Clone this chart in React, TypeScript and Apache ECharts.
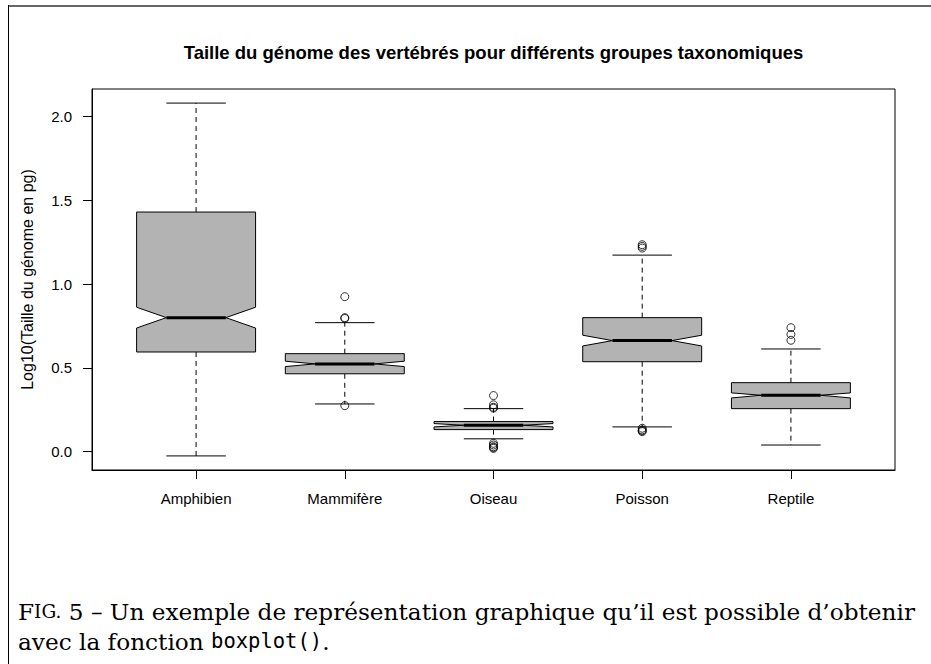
import React, { useEffect, useRef } from "react";
import * as echarts from "echarts";

const categories = ["Amphibien", "Mammifère", "Oiseau", "Poisson", "Reptile"];
const whiskerLow = [-0.025, 0.285, 0.077, 0.148, 0.04];
const boxLow = [0.595, 0.465, 0.132, 0.537, 0.257];
const notchLow = [0.738, 0.508, 0.148, 0.631, 0.321];
const medians = [0.8, 0.524, 0.158, 0.663, 0.337];
const notchHigh = [0.862, 0.54, 0.168, 0.695, 0.351];
const boxHigh = [1.43, 0.585, 0.18, 0.8, 0.412];
const whiskerHigh = [2.08, 0.77, 0.257, 1.173, 0.613];
const outliers: number[][] = [
  [],
  [0.925, 0.8, 0.795, 0.275],
  [0.335, 0.28, 0.265, 0.26, 0.05, 0.04, 0.03, 0.025, 0.02],
  [1.235, 1.225, 1.215, 0.14, 0.13, 0.125, 0.12],
  [0.74, 0.7, 0.665],
];
const yTicks = [0, 0.5, 1, 1.5, 2];
const xTicks = [1, 2, 3, 4, 5];

const titleText = "Taille du génome des vertébrés pour différents groupes taxonomiques";
const yTitle = "Log10(Taille du génome en pg)";

export default function App() {
  const ref = useRef<HTMLDivElement>(null);
  useEffect(() => {
    if (!ref.current) return;
    const chart = echarts.init(ref.current, undefined, { renderer: "svg" });
    const boxData = categories.map((_, i) => [
      i + 1,
      whiskerLow[i],
      boxLow[i],
      notchLow[i],
      medians[i],
      notchHigh[i],
      boxHigh[i],
      whiskerHigh[i],
    ]);
    const outData: number[][] = [];
    outliers.forEach((arr, i) => arr.forEach((v) => outData.push([i + 1, v])));
    const font = "'Liberation Sans', Arial, sans-serif";
    const serif = "'DejaVu Serif', 'Liberation Serif', serif";
    chart.setOption({
      animation: false,
      grid: {
        left: 92,
        top: 89,
        width: 803,
        height: 381,
        show: true,
        borderColor: "#000",
        borderWidth: 1,
        backgroundColor: "transparent",
      },
      xAxis: {
        type: "value",
        min: 0.3,
        max: 5.7,
        splitLine: { show: false },
        axisLine: { show: true, onZero: false, lineStyle: { color: "#000", width: 1 } },
        axisTick: { show: true, customValues: xTicks, length: 9, lineStyle: { color: "#000" } },
        axisLabel: {
          customValues: xTicks,
          formatter: (v: number) => categories[Math.round(v) - 1] ?? "",
          color: "#000",
          fontFamily: font,
          fontSize: 15,
          margin: 21,
        },
      },
      yAxis: {
        type: "value",
        min: -0.109,
        max: 2.164,
        splitLine: { show: false },
        axisLine: { show: true, onZero: false, lineStyle: { color: "#000", width: 1 } },
        axisTick: { show: true, customValues: yTicks, length: 9, lineStyle: { color: "#000" } },
        axisLabel: {
          customValues: yTicks,
          formatter: (v: number) => v.toFixed(1),
          color: "#000",
          fontFamily: font,
          fontSize: 15,
          margin: 20,
        },
        name: yTitle,
        nameLocation: "middle",
        nameGap: 57,
        nameTextStyle: { color: "#000", fontFamily: font, fontSize: 16 },
      },
      graphic: [
        {
          type: "line",
          shape: { x1: 8, y1: 6, x2: 931, y2: 6 },
          style: { stroke: "#666", lineWidth: 2 },
        },
        {
          type: "line",
          shape: { x1: 8.5, y1: 5, x2: 8.5, y2: 664 },
          style: { stroke: "#000", lineWidth: 1 },
        },
        {
          type: "text",
          x: 493.5,
          y: 52,
          style: {
            text: titleText,
            align: "center",
            verticalAlign: "middle",
            fontFamily: font,
            fontWeight: "bold",
            fontSize: 18.5,
            fill: "#000",
          },
        },
        {
          type: "text",
          x: 18,
          y: 611,
          style: {
            text: "{a|F}{b|IG.}{a| 5 – Un exemple de représentation graphique qu’il est possible d’obtenir}",
            verticalAlign: "middle",
            rich: {
              a: { fontFamily: serif, fontSize: 23.2, fill: "#000" },
              b: { fontFamily: serif, fontSize: 18.5, fill: "#000" },
            },
          },
        },
        {
          type: "text",
          x: 18,
          y: 641,
          style: {
            text: "{a|avec la fonction }{m|boxplot()}{a|.}",
            verticalAlign: "middle",
            rich: {
              a: { fontFamily: serif, fontSize: 23.2, fill: "#000" },
              m: { fontFamily: "'DejaVu Sans Mono', 'Liberation Mono', monospace", fontSize: 20.5, fill: "#000" },
            },
          },
        },
      ],
      series: [
        {
          type: "custom",
          data: boxData,
          encode: { x: 0, y: [1, 2, 3, 4, 5, 6, 7] },
          renderItem: (params: any, api: any) => {
            const xv = api.value(0);
            const cx = api.coord([xv, 0])[0];
            const w = api.size([0.4, 0])[0];
            const y = (k: number) => api.coord([xv, api.value(k)])[1];
            const wlo = y(1), blo = y(2), nlo = y(3), med = y(4), nhi = y(5), bhi = y(6), whi = y(7);
            const stroke = { stroke: "#000", lineWidth: 1 };
            const dashed = { stroke: "#000", lineWidth: 1, lineDash: [5, 4] };
            return {
              type: "group",
              children: [
                { type: "line", shape: { x1: cx, y1: bhi, x2: cx, y2: whi }, style: dashed },
                { type: "line", shape: { x1: cx, y1: blo, x2: cx, y2: wlo }, style: dashed },
                { type: "line", shape: { x1: cx - w / 2, y1: whi, x2: cx + w / 2, y2: whi }, style: stroke },
                { type: "line", shape: { x1: cx - w / 2, y1: wlo, x2: cx + w / 2, y2: wlo }, style: stroke },
                {
                  type: "polygon",
                  shape: {
                    points: [
                      [cx - w, blo],
                      [cx - w, nlo],
                      [cx - w / 2, med],
                      [cx - w, nhi],
                      [cx - w, bhi],
                      [cx + w, bhi],
                      [cx + w, nhi],
                      [cx + w / 2, med],
                      [cx + w, nlo],
                      [cx + w, blo],
                    ],
                  },
                  style: { fill: "#b3b3b3", stroke: "#000", lineWidth: 1 },
                },
                {
                  type: "line",
                  shape: { x1: cx - w / 2, y1: med, x2: cx + w / 2, y2: med },
                  style: { stroke: "#000", lineWidth: 3 },
                },
              ],
            };
          },
        },
        {
          type: "scatter",
          data: outData,
          symbol: "circle",
          symbolSize: 8,
          itemStyle: { color: "none", borderColor: "#000", borderWidth: 1 },
          z: 3,
        },
      ],
    });
    return () => chart.dispose();
  }, []);
  return (
    <div
      ref={ref}
      style={{ position: "fixed", left: 0, top: 0, width: 931, height: 664, background: "#fff" }}
    />
  );
}
